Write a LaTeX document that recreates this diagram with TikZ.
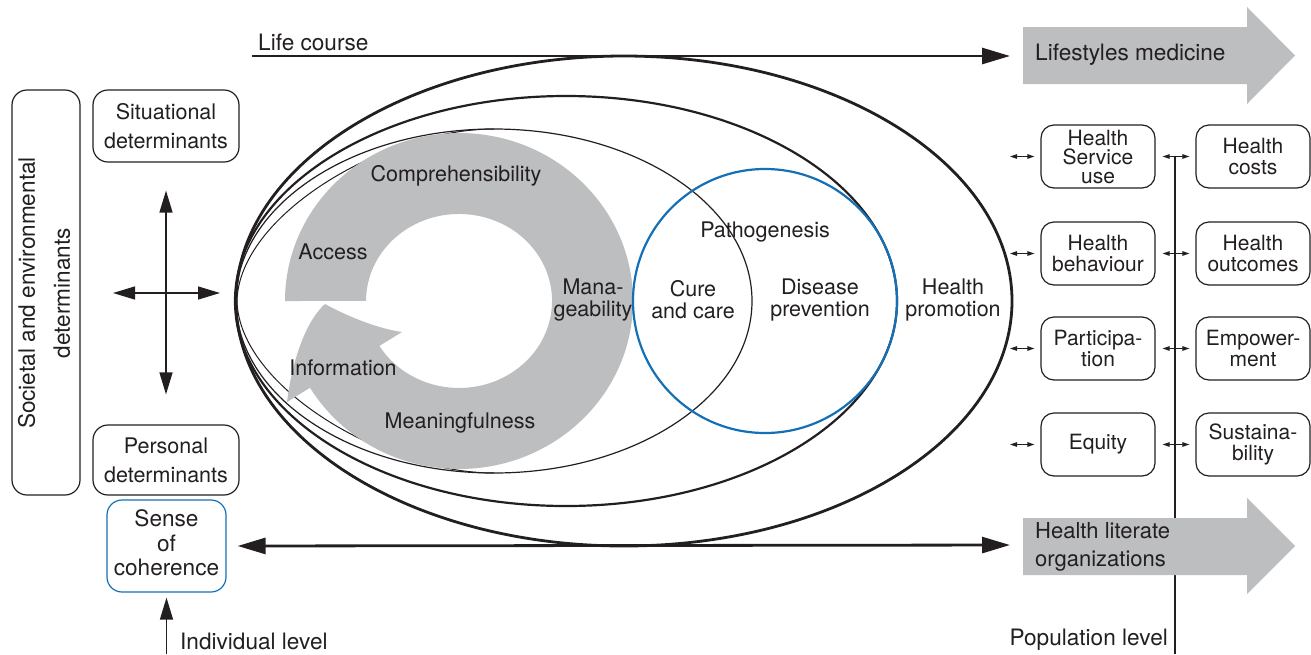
\documentclass[tikz,border=0pt]{standalone}
\usepackage{fontspec}
\setmainfont{TeX Gyre Heros}
\usetikzlibrary{arrows.meta,calc}
\definecolor{txt}{HTML}{231F20}
\definecolor{ringgray}{HTML}{BCBEC0}
\definecolor{cblue}{HTML}{1370B6}
\begin{document}
\begin{tikzpicture}[x=1pt,y=-1pt,color=txt,
  lab/.style={font=\fontsize{21.5}{22}\selectfont, align=center, inner sep=0pt},
  biglab/.style={font=\fontsize{22.6}{28}\selectfont, inner sep=0pt},
  rbox/.style={draw=txt, line width=1.2pt, rounded corners=13pt, align=center, inner sep=0pt,
    font=\fontsize{21}{21.5}\selectfont, minimum width=114pt, minimum height=63pt},
  lbox/.style={draw=txt, line width=1.2pt, rounded corners=15pt, align=center, inner sep=0pt,
    font=\fontsize{21.5}{29}\selectfont, minimum width=146pt},
  bigarr/.style={line width=2.8pt, -{Triangle[length=28pt,width=16pt]}},
  bigdbl/.style={line width=2.8pt, {Triangle[length=28pt,width=16pt]}-{Triangle[length=28pt,width=16pt]}},
  midarr/.style={line width=1.3pt, {Triangle[length=22pt,width=13pt]}-{Triangle[length=22pt,width=13pt]}},
  uparr/.style={line width=1.3pt, -{Triangle[length=22pt,width=13pt]}},
  smallarr/.style={line width=1pt, {Triangle[length=7pt,width=4.5pt]}-{Triangle[length=7pt,width=4.5pt]}},
  grayarrow/.style={fill=ringgray, draw=none}
]
\useasboundingbox (0,0) rectangle (1311,654);

% ---- nested ellipses ----
\coordinate (eO) at (624,301);
\coordinate (e2) at (566,301);
\coordinate (e3) at (494,301);
\draw[line width=2.8pt] (eO) ellipse[x radius=388, y radius=245];
\draw[line width=2.2pt] (e2) ellipse[x radius=331, y radius=205];
\draw[line width=1.2pt] (e3) ellipse[x radius=258, y radius=172];
\draw[line width=1pt] (494,129) .. controls (385,129) and (239,215) .. (237,301)
  .. controls (239,387) and (385,473) .. (494,473);

% ---- gray cycle arrow ----
\fill[ringgray] (285,301) arc[start angle=180, end angle=508.9, x radius=174, y radius=168]
  -- (287,402) .. controls (292,362) and (305,322) .. (325,304)
  .. controls (345,315) and (375,328) .. (402,332)
  -- (379.4,345.9) arc[start angle=508.9, end angle=180, x radius=93, y radius=87] -- cycle;

% ---- blue circle ----
\coordinate (bc) at (765,301);
\draw[cblue, line width=2.2pt] (bc) circle[radius=132];

% ---- texts inside ----
\node[lab] (comp) at (456,176) {Comprehensibility};
\node[lab] (acc) at (333,252) {Access};
\node[lab] (man) at (593,300) {Mana-\\geability};
\node[lab] (inf) at (343,368) {Information};
\node[lab] (mean) at (460,423) {Meaningfulness};
\node[lab] (path) at (765,232) {Pathogenesis};
\node[lab] (cure) at (693,300) {Cure\\and care};
\node[lab] (dis) at (820,300) {Disease\\prevention};
\node[lab] (hp) at (953,300) {Health\\promotion};

% ---- population line ----
\coordinate (popT) at (1175,157);
\coordinate (popB) at (1175,654);
\draw[line width=1.3pt] (popT) -- (popB);

% ---- gray big arrows ----
\fill[grayarrow] (1023,27) -- (1247,27) -- (1247,7) -- (1295,55.5) -- (1247,104) -- (1247,84) -- (1023,84) -- cycle;
\coordinate (lsmW) at (1023,56);
\node[biglab, anchor=west] (lsm) at (1035,55) {Lifestyles medicine};
\fill[grayarrow] (1023,518) -- (1247,518) -- (1247,498) -- (1295,546) -- (1247,594) -- (1247,575) -- (1023,575) -- cycle;
\coordinate (hloW) at (1023,545);
\node[biglab, anchor=west, align=left, font=\fontsize{22}{28}\selectfont] (hlo) at (1035,547) {Health literate\\organizations};

% ---- life course ----
\node[biglab, anchor=west] (lc) at (258,42) {Life course};
\coordinate (lcS) at (252,56);
\draw[bigarr, shorten >=13pt] (lcS) -- (lsmW);

% ---- left side ----
\node[lbox, minimum width=68pt, minimum height=405pt] (soc) at (46,292.5) {};
\node[lab, rotate=90, font=\fontsize{22.6}{35}\selectfont] (soctxt) at (44,293) {Societal and environmental\\determinants};
\node[lbox, minimum height=72pt] (sit) at (166,126) {Situational\\determinants};
\node[lbox, minimum height=70pt] (pers) at (166,460) {Personal\\determinants};
\node[lbox, draw=cblue, minimum width=119pt, minimum height=92pt] (soc2) at (166.5,546) {};
\node[lab, font=\fontsize{22.6}{24.5}\selectfont] (soc2txt) at (166.5,543) {Sense\\of\\coherence};

\draw[midarr, shorten <=28pt, shorten >=30pt] (sit.south) -- (pers.north);
\coordinate (hL) at (113,293);
\coordinate (hR) at (220,293);
\draw[midarr] (hL) -- (hR);

\coordinate (indB) at (166.5,654);
\draw[uparr, shorten >=5pt] (indB) -- (soc2.south);
\node[biglab, anchor=west] (ind) at (180,641) {Individual level};
\node[biglab, anchor=east] (pop) at (1168,640) {Population level};

\draw[bigdbl, shorten <=11pt, shorten >=13pt] (soc2.east) -- (hloW);

% ---- right boxes ----
\node[rbox, font=\fontsize{21}{19}\selectfont] (hsu) at (1098,156.5) {Health\\Service\\use};
\node[rbox] (hc) at (1253,156.5) {Health\\costs};
\node[rbox] (hb) at (1098,253.5) {Health\\behaviour};
\node[rbox] (ho) at (1253,253.5) {Health\\outcomes};
\node[rbox] (par) at (1098,348.5) {Participa-\\tion};
\node[rbox] (emp) at (1253,348.5) {Empower-\\ment};
\node[rbox] (eq) at (1098,444.5) {Equity};
\node[rbox] (sus) at (1253,444.5) {Sustaina-\\bility};

\coordinate (l1) at (1010,156.5);
\coordinate (l2) at (1010,253.5);
\coordinate (l3) at (1010,348.5);
\coordinate (l4) at (1010,444.5);
\draw[smallarr, shorten >=6pt] (l1) -- (hsu.west);
\draw[smallarr, shorten >=6pt] (l2) -- (hb.west);
\draw[smallarr, shorten >=6pt] (l3) -- (par.west);
\draw[smallarr, shorten >=6pt] (l4) -- (eq.west);
\draw[smallarr, shorten <=7pt, shorten >=6pt] (hsu.east) -- (hc.west);
\draw[smallarr, shorten <=7pt, shorten >=6pt] (hb.east) -- (ho.west);
\draw[smallarr, shorten <=7pt, shorten >=6pt] (par.east) -- (emp.west);
\draw[smallarr, shorten <=7pt, shorten >=6pt] (eq.east) -- (sus.west);
\end{tikzpicture}
\end{document}
